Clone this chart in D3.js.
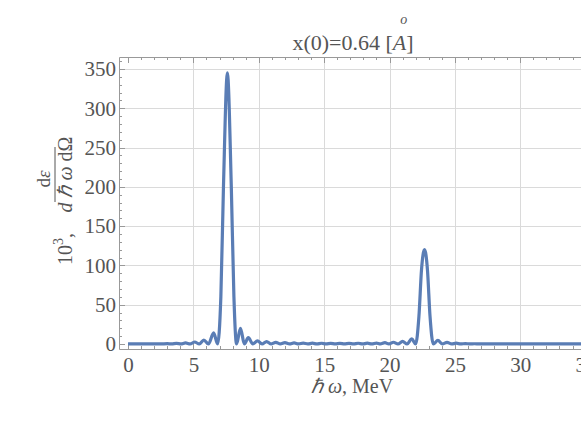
<!DOCTYPE html>
<html>
<head>
<meta charset="utf-8">
<script src="https://d3js.org/d3.v7.min.js"></script>
<style>
    body { margin: 0; background: #fff; }
    svg text { font-family: "Liberation Serif", "Times New Roman", serif; fill: #555; }
    .grid line { stroke: #dadada; stroke-width: 1; shape-rendering: crispEdges; }
    .tk line { stroke: #999; shape-rendering: crispEdges; }
    .tk path { display: none; }
    .tk text { font-size: 21px; fill: #555; }
</style>
</head>
<body>
<div id="vis"></div>
<script>
    // values
    var omega = [0, 0.5, 1, 1.5, 2, 2.5, 3, 3.35, 3.7, 4.05, 4.4, 4.75, 5.1, 5.45, 5.8, 6.15, 6.55, 6.85,
        7.1, 7.3, 7.6, 7.9, 8.1, 8.3, 8.6, 8.9, 9.2, 9.55, 9.9, 10.25, 10.6, 10.95, 11.3, 11.65, 12.0,
        12.35, 12.7, 13.05, 13.4, 13.75, 14.1, 14.45, 14.8, 15.15, 15.5, 15.85, 16.2, 16.55, 16.9, 17.25,
        17.6, 17.95, 18.3, 18.65, 19.0, 19.3, 19.65, 19.95, 20.3, 20.65, 21.0, 21.35, 21.7, 22.0,
        22.25, 22.45, 22.68, 22.9, 23.1, 23.35, 23.7, 24.05, 24.4, 24.75, 25.1, 25.45, 25.8, 26.15,
        26.5, 26.85, 28, 30, 32, 34, 36]
    var intensity = [0, 0, 0, 0, 0, 0, 0.4, 0, 0.7, 0, 1.3, 0, 2.5, 0, 5, 0, 14, 0,
        60, 200, 345, 200, 60, 0, 20, 0, 8, 0, 4, 0, 3, 0, 2, 0, 1.6,
        0, 1.3, 0, 1.1, 0, 1, 0, 0.9, 0, 0.8, 0, 0.8, 0, 0.8, 0,
        0.9, 0, 1, 0, 1.2, 0, 1.6, 0, 2.2, 0, 3.2, 0, 6.5, 0,
        35, 95, 120, 95, 35, 0, 4.5, 0, 2, 0, 1, 0, 0.5, 0,
        0.3, 0, 0, 0, 0, 0, 0]
    var xTicks = [0, 5, 10, 15, 20, 25, 30, 35]
    var yTicks = [0, 50, 100, 150, 200, 250, 300, 350]

    var W = 581, H = 428
    var pLeft = 119, pRight = 600, pTop = 57, pBottom = 349

    var svg = d3.select("#vis").append("svg")
        .attr("width", W).attr("height", H)

    var x = d3.scaleLinear().domain([-0.69, 36.1]).range([pLeft, pRight])
    var y = d3.scaleLinear().domain([-6.4, 365.3]).range([pBottom, pTop])

    // grid
    svg.append("g").attr("class", "grid")
        .selectAll("line").data(xTicks.filter(function (d) { return d > 0 })).enter().append("line")
        .attr("x1", function (d) { return Math.round(x(d)) + 0.5 }).attr("x2", function (d) { return Math.round(x(d)) + 0.5 })
        .attr("y1", pTop).attr("y2", pBottom)
    svg.append("g").attr("class", "grid")
        .selectAll("line").data(yTicks.filter(function (d) { return d > 0 })).enter().append("line")
        .attr("y1", function (d) { return Math.round(y(d)) + 0.5 }).attr("y2", function (d) { return Math.round(y(d)) + 0.5 })
        .attr("x1", pLeft).attr("x2", pRight)

    // minor ticks
    var xMinor = d3.range(0, 37, 1).filter(function (d) { return d % 5 })
    var yMinor = d3.range(0, 365, 10).filter(function (d) { return d % 50 })

    svg.append("g").attr("class", "tk")
        .attr("transform", "translate(0," + pBottom + ")")
        .call(d3.axisBottom(x).tickValues(xMinor).tickSize(-3).tickFormat(""))
    svg.append("g").attr("class", "tk")
        .attr("transform", "translate(0," + pTop + ")")
        .call(d3.axisTop(x).tickValues(xMinor).tickSize(-3).tickFormat(""))
    svg.append("g").attr("class", "tk")
        .attr("transform", "translate(" + pLeft + ",0)")
        .call(d3.axisLeft(y).tickValues(yMinor).tickSize(-3).tickFormat(""))

    // major ticks
    svg.append("g").attr("class", "tk")
        .attr("transform", "translate(0," + pBottom + ")")
        .call(d3.axisBottom(x).tickValues(xTicks).tickSize(-6).tickPadding(8).tickFormat(d3.format("d")))
    svg.append("g").attr("class", "tk")
        .attr("transform", "translate(0," + pTop + ")")
        .call(d3.axisTop(x).tickValues(xTicks).tickSize(-6).tickFormat(""))
    svg.append("g").attr("class", "tk")
        .attr("transform", "translate(" + pLeft + ",0)")
        .call(d3.axisLeft(y).tickValues(yTicks).tickSize(-6).tickPadding(3).tickFormat(d3.format("d")))

    // frame
    svg.append("path")
        .attr("d", "M" + pRight + "," + (pTop + 0.5) + "H" + (pLeft + 0.5) + "V" + (pBottom + 0.5) + "H" + pRight)
        .attr("fill", "none").attr("stroke", "#999").attr("stroke-width", 1)

    // curve
    var pts = omega.map(function (d, i) { return [d, intensity[i]] })
    var line = d3.line()
        .x(function (d) { return x(d[0]) })
        .y(function (d) { return y(d[1]) })
        .curve(d3.curveMonotoneX)
    svg.append("path")
        .datum(pts)
        .attr("d", line)
        .attr("fill", "none")
        .attr("stroke", "#5a7db5")
        .attr("stroke-width", 3.2)
        .attr("stroke-linejoin", "round")

    // title
    var title = svg.append("text")
        .attr("x", 353).attr("y", 50)
        .attr("text-anchor", "middle")
        .style("font-size", "22px")
    title.append("tspan").text("x(0)=0.64 [")
    title.append("tspan").style("font-style", "italic").text("A")
    title.append("tspan").text("]")
    var aPos = title.node().getStartPositionOfChar(11)
    svg.append("text")
        .attr("x", aPos.x + 11).attr("y", 24)
        .style("font-size", "14px").style("font-style", "italic")
        .attr("text-anchor", "middle")
        .text("o")

    // x label
    var xl = svg.append("text")
        .attr("x", 352).attr("y", 393)
        .attr("text-anchor", "middle")
        .style("font-size", "20px")
    xl.append("tspan").style("font-style", "italic").text("ℏ ω")
    xl.append("tspan").text(", MeV")

    // y label
    var yl = svg.append("g").attr("transform", "translate(72,265) rotate(-90)")
    var t1 = yl.append("text").attr("x", 0).attr("y", 0).style("font-size", "20px")
    t1.append("tspan").text("10")
    t1.append("tspan").attr("dy", -9).style("font-size", "14px").text("3")
    t1.append("tspan").attr("dy", 9).text(",")
    yl.append("line")
        .attr("x1", 63).attr("x2", 118).attr("y1", -17).attr("y2", -17)
        .attr("stroke", "#555").attr("stroke-width", 1)
    var den = yl.append("text").attr("x", 90.5).attr("y", 0)
        .attr("text-anchor", "middle").style("font-size", "20px")
    den.append("tspan").style("font-style", "italic").text("d ℏ ω ")
    den.append("tspan").text("dΩ")
    var num = yl.append("text").attr("x", 86).attr("y", -22)
        .attr("text-anchor", "middle").style("font-size", "19px")
    num.append("tspan").text("d")
    num.append("tspan").style("font-style", "italic").text("ε")
</script>
</body>
</html>
